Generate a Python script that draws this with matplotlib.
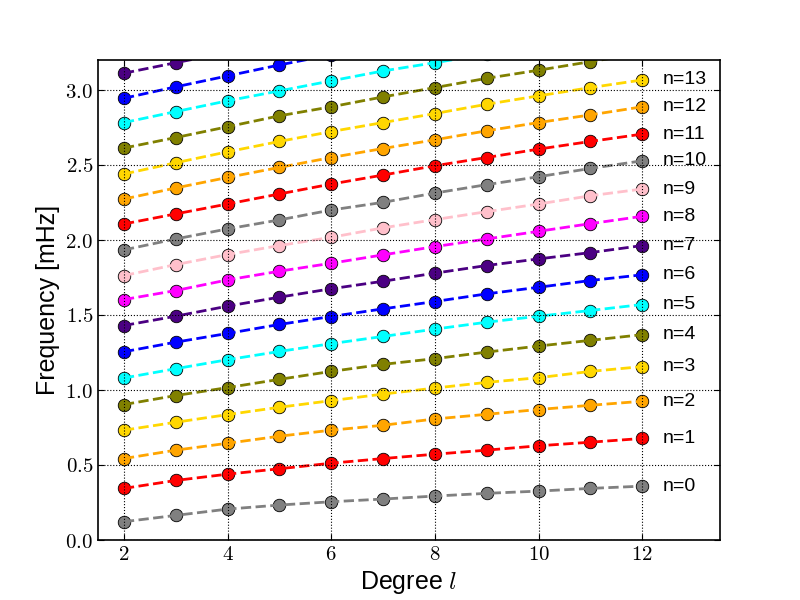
import matplotlib
matplotlib.use('Agg')
import matplotlib.pyplot as plt
from matplotlib.ticker import FuncFormatter

plt.rcParams['mathtext.fontset'] = 'cm'
plt.rcParams['font.family'] = ['Liberation Sans', 'DejaVu Sans']

degrees = [2, 3, 4, 5, 6, 7, 8, 9, 10, 11, 12]

# frequencies in mHz, one list per radial order n
freq = {
    0: [0.122, 0.164, 0.206, 0.233, 0.255, 0.273, 0.293, 0.311, 0.326, 0.344, 0.359],
    1: [0.344, 0.397, 0.439, 0.475, 0.512, 0.543, 0.572, 0.599, 0.628, 0.652, 0.677],
    2: [0.543, 0.599, 0.645, 0.692, 0.732, 0.765, 0.807, 0.838, 0.870, 0.898, 0.925],
    3: [0.732, 0.785, 0.836, 0.885, 0.929, 0.973, 1.013, 1.051, 1.082, 1.124, 1.156],
    4: [0.903, 0.963, 1.016, 1.071, 1.124, 1.171, 1.209, 1.253, 1.293, 1.331, 1.369],
    5: [1.080, 1.142, 1.202, 1.257, 1.309, 1.357, 1.406, 1.452, 1.492, 1.530, 1.570],
    6: [1.255, 1.319, 1.377, 1.437, 1.490, 1.541, 1.590, 1.641, 1.685, 1.730, 1.768],
    7: [1.430, 1.492, 1.559, 1.619, 1.675, 1.725, 1.779, 1.830, 1.874, 1.916, 1.963],
    8: [1.603, 1.663, 1.734, 1.792, 1.845, 1.901, 1.956, 2.007, 2.058, 2.109, 2.158],
    9: [1.763, 1.836, 1.903, 1.963, 2.018, 2.081, 2.136, 2.189, 2.240, 2.295, 2.340],
    10: [1.934, 2.007, 2.074, 2.134, 2.200, 2.251, 2.313, 2.369, 2.422, 2.477, 2.528],
    11: [2.107, 2.174, 2.240, 2.307, 2.373, 2.433, 2.495, 2.550, 2.606, 2.657, 2.706],
    12: [2.273, 2.347, 2.417, 2.484, 2.550, 2.610, 2.668, 2.728, 2.783, 2.834, 2.888],
    13: [2.440, 2.515, 2.588, 2.657, 2.723, 2.783, 2.843, 2.905, 2.961, 3.016, 3.067],
    14: [2.613, 2.683, 2.755, 2.828, 2.888, 2.954, 3.016, 3.078, 3.132, 3.189, 3.245],
    15: [2.783, 2.856, 2.928, 2.994, 3.061, 3.127, 3.182, 3.240],
    16: [2.945, 3.021, 3.094, 3.167, 3.235],
    17: [3.112, 3.182, 3.250],
}

colors = ['gray', 'red', 'orange', 'gold', 'olive', 'cyan', 'blue', 'indigo', 'magenta', 'pink']
labelled = range(14)

fig = plt.figure(figsize=(8, 6), dpi=100)
ax = fig.add_axes([0.1225, 0.1, 0.7775, 0.8])

for n, f in freq.items():
    c = colors[n % len(colors)]
    x = degrees[:len(f)]
    ax.plot(x, f, 'o', color=c, mec='black', mew=0.6, ms=9, zorder=2)
    ax.plot(x, f, '--', color=c, lw=2, zorder=2.1)
    if n in labelled:
        ax.text(12.4, f[-1], 'n=%d' % n, fontsize=14, va='center', ha='left')

ax.set_xlim(1.5, 13.5)
ax.set_ylim(0, 3.2)
ax.set_xticks([2, 4, 6, 8, 10, 12])
ax.set_yticks([0.0, 0.5, 1.0, 1.5, 2.0, 2.5, 3.0])
ax.xaxis.set_major_formatter(FuncFormatter(lambda v, p: r'$%d$' % v))
ax.yaxis.set_major_formatter(FuncFormatter(lambda v, p: r'$%.1f$' % v))
ax.tick_params(labelsize=15, direction='in', length=4, top=True, right=True)
ax.set_axisbelow(False)
ax.grid(True, color='black', linestyle=':', linewidth=0.8)
for s in ax.spines.values():
    s.set_linewidth(1.2)

ax.set_xlabel(r'Degree $l$', fontsize=18)
ax.set_ylabel('Frequency [mHz]', fontsize=18)

fig.savefig('out.png', dpi=100)
